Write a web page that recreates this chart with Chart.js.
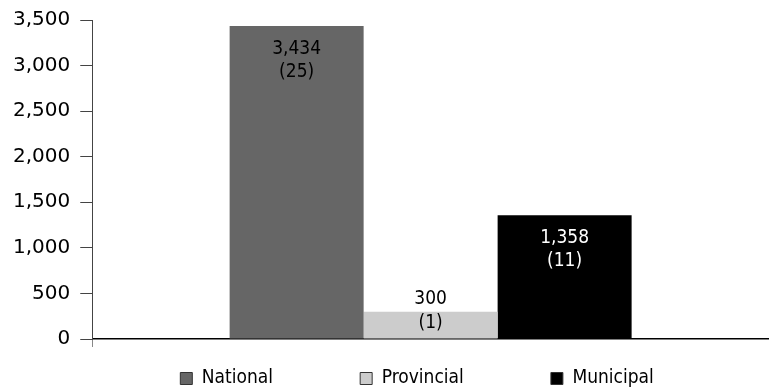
<!DOCTYPE html>
<html><head><meta charset="utf-8">
<script src="https://cdn.jsdelivr.net/npm/chart.js@4"></script>
<style>html,body{margin:0;padding:0;background:#fff}#wrap{width:769px;height:390px}</style>
</head><body><div id="wrap"><canvas id="c" width="769" height="390"></canvas></div>
<script>
const categories = [''];
const seriesNames = ['National', 'Provincial', 'Municipal'];
const seriesValues = [3434, 300, 1358];
const seriesCounts = [25, 1, 11];
const seriesColors = ['#666666', '#cccccc', '#000000'];
const labelColors = ['#000000', '#000000', '#ffffff'];
const yTickValues = [0, 500, 1000, 1500, 2000, 2500, 3000, 3500];

const legendFont = '"DejaVu Sans Condensed", "DejaVu Sans", sans-serif';
const legendTrail = [67, 64, 28];

const mctx = document.createElement('canvas').getContext('2d');
mctx.font = '19px ' + legendFont;
const spaceW = mctx.measureText(' ').width;

const barLabels = {
  id: 'barLabels',
  afterDatasetsDraw(chart) {
    const ctx = chart.ctx;
    ctx.save();
    ctx.font = '19px ' + legendFont;
    ctx.textAlign = 'center';
    ctx.textBaseline = 'middle';
    chart.data.datasets.forEach((ds, i) => {
      const meta = chart.getDatasetMeta(i);
      meta.data.forEach((bar, j) => {
        const v = ds.data[j];
        const top = bar.y, h = bar.base - bar.y;
        const l1 = v.toLocaleString('en-US');
        const l2 = '(' + seriesCounts[i] + ')';
        let y1, y2;
        if (h > 60) { y1 = top + 23; y2 = top + 46; }
        else { y1 = top - 13; y2 = top + 11; }
        ctx.fillStyle = labelColors[i];
        ctx.fillText(l1, bar.x, y1);
        ctx.fillText(l2, bar.x, y2);
      });
    });
    ctx.restore();
  }
};

new Chart(document.getElementById('c'), {
  type: 'bar',
  data: {
    labels: categories,
    datasets: seriesNames.map((n, i) => ({
      label: n,
      data: [seriesValues[i]],
      backgroundColor: seriesColors[i],
      borderWidth: 0,
      barPercentage: 1,
      categoryPercentage: 0.594
    }))
  },
  options: {
    responsive: false,
    animation: false,
    devicePixelRatio: 1,
    layout: { padding: { top: 19, left: 3, right: 0, bottom: -8 } },
    scales: {
      x: {
        ticks: { display: false },
        grid: { drawOnChartArea: false, drawTicks: true, tickLength: 8, color: '#888', offset: true },
        border: { display: true, color: '#000', width: 1.5 }
      },
      y: {
        min: 0, max: 3500,
        afterBuildTicks: s => { s.ticks = yTickValues.map(v => ({ value: v })); },
        ticks: {
          padding: 10, color: '#000',
          font: { family: '"DejaVu Sans", sans-serif', size: 20, lineHeight: 1 },
          callback: v => Number(v).toLocaleString('en-US')
        },
        grid: { drawOnChartArea: false, drawTicks: true, tickLength: 12, color: '#444', lineWidth: 1 },
        border: { display: true, color: '#444', width: 1 }
      }
    },
    plugins: {
      tooltip: { enabled: false },
      legend: {
        position: 'bottom',
        fullSize: false,
        labels: {
          boxWidth: 12, boxHeight: 12, padding: 22, color: '#000',
          font: { family: legendFont, size: 19 },
          generateLabels(chart) {
            const items = Chart.defaults.plugins.legend.labels.generateLabels(chart);
            items.forEach((it, i) => {
              it.text = it.text + ' '.repeat(Math.round(legendTrail[i] / spaceW));
              it.strokeStyle = '#333';
              it.lineWidth = 1;
            });
            return items;
          }
        }
      }
    }
  },
  plugins: [barLabels]
});
</script></body></html>
